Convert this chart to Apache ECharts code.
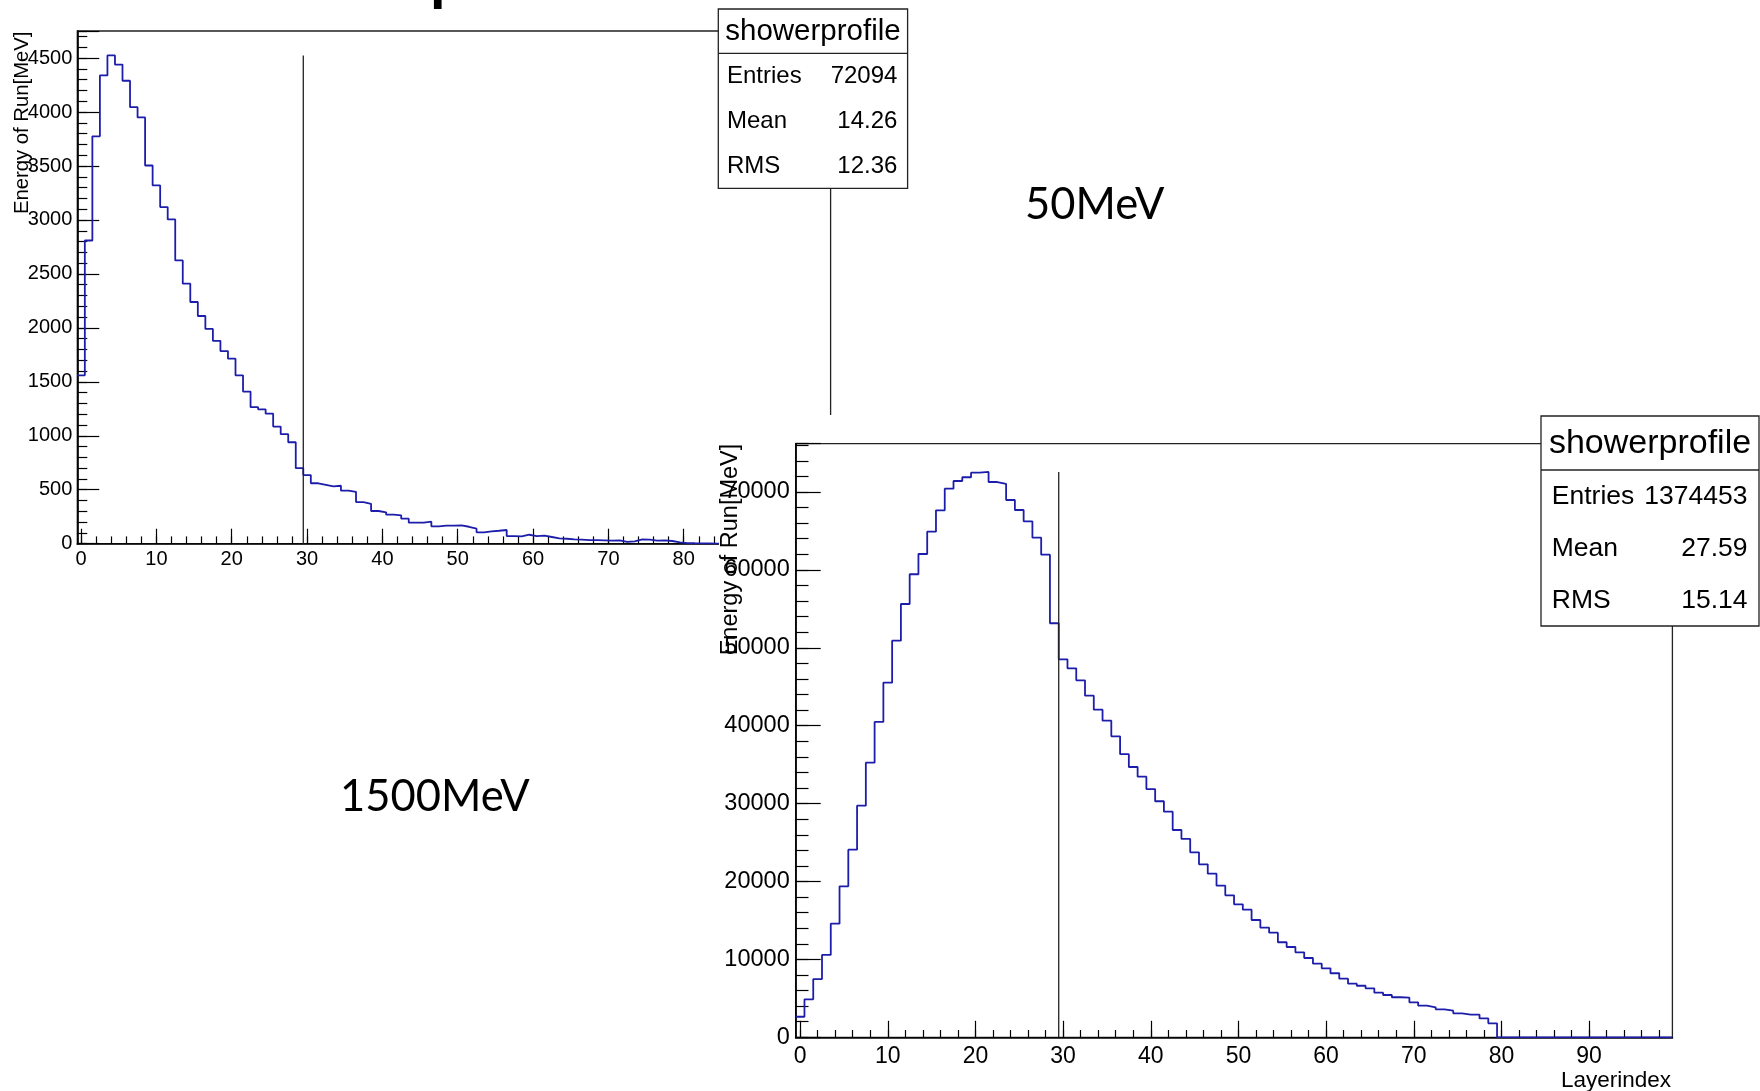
<!DOCTYPE html>
<html>
<head>
<meta charset="utf-8">
<script src="https://cdn.jsdelivr.net/npm/echarts@6/dist/echarts.min.js"></script>
<style>
html,body{margin:0;padding:0;background:#fff;}
#chart{width:1760px;height:1091px;}
</style>
</head>
<body>
<div id="chart"></div>
<script>
// ---------------- data ----------------
const layerIndex = Array.from({length: 100}, (_, i) => i);   // bin centres 0..99
const tickLabels = layerIndex.map(String);

// energy deposited per layer, 50 MeV run (bins 0..99)
const profile50MeV = [
  1560, 2810, 3775, 4340, 4525, 4440, 4290, 4045, 3950, 3505,
  3320, 3120, 3005, 2625, 2410, 2240, 2110, 1990, 1880, 1785,
  1715, 1560, 1410, 1265, 1245, 1205, 1085, 1015, 940, 700,
  636, 560, 546, 531, 537, 491, 481, 386, 370, 303,
  291, 269, 263, 232, 195, 195, 204, 161, 167, 167,
  170, 157, 139, 105, 115, 120, 127, 71, 68, 83,
  71, 74, 62, 50, 46, 40, 37, 34, 34, 31,
  28, 31, 16, 22, 40, 37, 28, 31, 25, 12,
  6, 4, 3, 2, 1, 0, 0, 0, 0, 0,
  0, 0, 0, 0, 0, 0, 0, 0, 0, 0
];

// energy deposited per layer, 1500 MeV run (bins 0..99)
const profile1500MeV = [
  2640, 4880, 7480, 10570, 14580, 19380, 24080, 29730, 35250, 40480,
  45520, 50910, 55620, 59440, 62040, 64900, 67650, 70420, 71410, 71890,
  72480, 72570, 71280, 71030, 68970, 67690, 66240, 64130, 61950, 53150,
  48520, 47370, 45830, 43850, 42050, 40640, 38640, 36350, 34700, 33450,
  31870, 30300, 28960, 26610, 25460, 23750, 22210, 21000, 19460, 18230,
  17070, 16380, 15060, 14070, 13430, 12200, 11590, 10910, 10180, 9450,
  8860, 8220, 7520, 6880, 6620, 6290, 5730, 5430, 5140, 5080,
  4490, 4060, 3850, 3590, 3420, 3080, 2920, 2900, 2420, 1800,
  0, 0, 0, 0, 0, 0, 0, 0, 0, 0,
  0, 0, 0, 0, 0, 0, 0, 0, 0, 0
];

const cutLayer = 29.5;
const histName = 'showerprofile';
const stats50 = [['Entries', '72094'], ['Mean', '14.26'], ['RMS', '12.36']];
const stats1500 = [['Entries', '1374453'], ['Mean', '27.59'], ['RMS', '15.14']];
const yTitle = 'Energy of Run[MeV]';
const xTitle = 'Layerindex';
const energyLabels = ['50MeV', '1500MeV'];
const titleFragment = 'p';

// ---------------- helpers ----------------
const BLUE = '#1d1dab';
const FONT = 'Liberation Sans';

function histOutline(values) {
  const pts = [];
  values.forEach((v, i) => { pts.push([i - 0.5, v]); pts.push([i + 0.5, v]); });
  return pts;
}

function xAxesFor(grid, z, majorLen, minorLen, fontSize, margin) {
  return [
    {type: 'value', gridIndex: grid, min: -0.5, max: 99.5, show: false},
    {type: 'category', gridIndex: grid, position: 'bottom', data: tickLabels, boundaryGap: true, z: z,
     axisLine: {show: true, onZero: false, lineStyle: {color: '#000', width: 1.7}},
     axisTick: {show: true, inside: true, alignWithLabel: true, length: majorLen,
                interval: (i) => i % 10 === 0, lineStyle: {color: '#000', width: 1.2}},
     axisLabel: {show: true, interval: (i) => i % 10 === 0, fontSize: fontSize, fontFamily: FONT,
                 color: '#000', margin: margin},
     splitLine: {show: false}},
    {type: 'category', gridIndex: grid, position: 'bottom', data: tickLabels, boundaryGap: true, z: z,
     axisLine: {show: false, onZero: false},
     axisTick: {show: true, inside: true, alignWithLabel: true, length: minorLen,
                interval: (i) => i % 2 === 0, lineStyle: {color: '#000', width: 1.2}},
     axisLabel: {show: false}, splitLine: {show: false}}
  ];
}

function yAxesFor(grid, z, max, major, minor, majorLen, minorLen, fontSize, margin) {
  return [
    {type: 'value', gridIndex: grid, min: 0, max: max, show: false},
    {type: 'value', gridIndex: grid, position: 'left', min: 0, max: max, interval: major, z: z,
     axisLine: {show: true, onZero: false, lineStyle: {color: '#000', width: 1.7}},
     axisTick: {show: true, inside: true, length: majorLen, lineStyle: {color: '#000', width: 1.2}},
     axisLabel: {show: true, fontSize: fontSize, fontFamily: FONT, color: '#000', margin: margin,
                 formatter: (v) => (Math.abs(v % major) < 1e-6 ? String(v) : '')},
     splitLine: {show: false}},
    {type: 'value', gridIndex: grid, position: 'left', min: 0, max: max, interval: minor, z: z,
     axisLine: {show: false, onZero: false},
     axisTick: {show: true, inside: true, length: minorLen, lineStyle: {color: '#000', width: 1.2}},
     axisLabel: {show: false}, splitLine: {show: false}}
  ];
}

function statsBox(x, y, w, titleH, rowH, titleSize, textSize, padL, padR, rows, z) {
  const h = titleH + rowH * rows.length;
  const els = [
    {type: 'rect', z: z, shape: {x: x, y: y, width: w, height: h},
     style: {fill: '#fff', stroke: '#222', lineWidth: 1.3}},
    {type: 'line', z: z + 1, shape: {x1: x, y1: y + titleH, x2: x + w, y2: y + titleH},
     style: {stroke: '#222', lineWidth: 1.3}},
    {type: 'text', z: z + 1, x: x + w / 2, y: y + titleH / 2 + 1,
     style: {text: histName, fontSize: titleSize, fontFamily: FONT, fill: '#000',
             align: 'center', verticalAlign: 'middle'}}
  ];
  rows.forEach((r, k) => {
    const cy = y + titleH + rowH * (k + 0.5) + 1;
    els.push({type: 'text', z: z + 1, x: x + padL, y: cy,
              style: {text: r[0], fontSize: textSize, fontFamily: FONT, fill: '#000',
                      align: 'left', verticalAlign: 'middle'}});
    els.push({type: 'text', z: z + 1, x: x + w - padR, y: cy,
              style: {text: r[1], fontSize: textSize, fontFamily: FONT, fill: '#000',
                      align: 'right', verticalAlign: 'middle'}});
  });
  return els;
}

const max50 = Math.max(...profile50MeV);
const max1500 = Math.max(...profile1500MeV);

const chart = echarts.init(document.getElementById('chart'), null, {renderer: 'canvas'});

const option = {
  animation: false,
  backgroundColor: '#fff',
  grid: [
    {left: 77.3, top: 31, width: 753.3, height: 512.7, show: true, borderColor: '#222', borderWidth: 1.3,
     backgroundColor: 'transparent', containLabel: false, outerBoundsMode: 'none', z: 1},
    {left: 795.7, top: 443.7, width: 876.7, height: 593.6, show: true, borderColor: '#222', borderWidth: 1.3,
     backgroundColor: 'transparent', containLabel: false, outerBoundsMode: 'none', z: 20}
  ],
  xAxis: [].concat(
    xAxesFor(0, 1, 15, 7.3, 20, 6),
    xAxesFor(1, 20, 16.5, 7.3, 23, 8)
  ),
  yAxis: [].concat(
    yAxesFor(0, 1, max50 * 1.05, 500, 100, 22, 10, 20, 5),
    yAxesFor(1, 20, max1500 * 1.05, 10000, 2000, 25, 12.8, 23.5, 6)
  ),
  series: [
    {type: 'line', xAxisIndex: 0, yAxisIndex: 0, data: histOutline(profile50MeV), symbol: 'none',
     showSymbol: false, lineStyle: {color: BLUE, width: 1.8}, z: 2, silent: true},
    {type: 'line', xAxisIndex: 0, yAxisIndex: 0, data: [[cutLayer, 0], [cutLayer, max50]], symbol: 'none',
     showSymbol: false, lineStyle: {color: '#222', width: 1.3}, z: 2, silent: true},
    {type: 'line', xAxisIndex: 3, yAxisIndex: 3, data: histOutline(profile1500MeV), symbol: 'none',
     showSymbol: false, lineStyle: {color: BLUE, width: 1.8}, z: 21, silent: true},
    {type: 'line', xAxisIndex: 3, yAxisIndex: 3, data: [[cutLayer, 0], [cutLayer, max1500]], symbol: 'none',
     showSymbol: false, lineStyle: {color: '#222', width: 1.3}, z: 21, silent: true}
  ],
  graphic: {
    elements: [].concat(
      [
        // clipped title fragment at the very top
        {type: 'text', z: 3, x: 430, y: -18,
         style: {text: titleFragment, fontSize: 56, fontFamily: FONT, fontWeight: 'bold', fill: '#000',
                 align: 'left', verticalAlign: 'middle'}},
        // y title of the upper histogram
        {type: 'text', z: 3, x: 22, y: 31.5, rotation: Math.PI / 2,
         style: {text: yTitle, fontSize: 20.3, fontFamily: FONT, fill: '#000',
                 align: 'right', verticalAlign: 'middle'}},
        {type: 'text', z: 3, x: 1025, y: 205,
         style: {text: energyLabels[0], fontSize: 43.5, fontFamily: 'Lato', fill: '#000',
                 align: 'left', verticalAlign: 'middle'}},
        {type: 'text', z: 3, x: 340, y: 796.5,
         style: {text: energyLabels[1], fontSize: 43.5, fontFamily: 'Lato', fill: '#000',
                 align: 'left', verticalAlign: 'middle'}}
      ],
      statsBox(718.3, 9, 189.3, 44.3, 45, 29.5, 24, 8.7, 10.2, stats50, 5),
      [
        // lower pad covering the upper one
        {type: 'rect', z: 10, shape: {x: 719, y: 415, width: 1041, height: 676}, style: {fill: '#fff'}},
        {type: 'text', z: 22, x: 731, y: 443.7, rotation: Math.PI / 2,
         style: {text: yTitle, fontSize: 23.5, fontFamily: FONT, fill: '#000',
                 align: 'right', verticalAlign: 'middle'}},
        {type: 'text', z: 22, x: 1671, y: 1081,
         style: {text: xTitle, fontSize: 22.5, fontFamily: FONT, fill: '#000',
                 align: 'right', verticalAlign: 'middle'}}
      ],
      statsBox(1541, 416, 218, 54, 52, 34, 26.5, 10.8, 11.5, stats1500, 30)
    )
  }
};
chart.setOption(option);
</script>
</body>
</html>
